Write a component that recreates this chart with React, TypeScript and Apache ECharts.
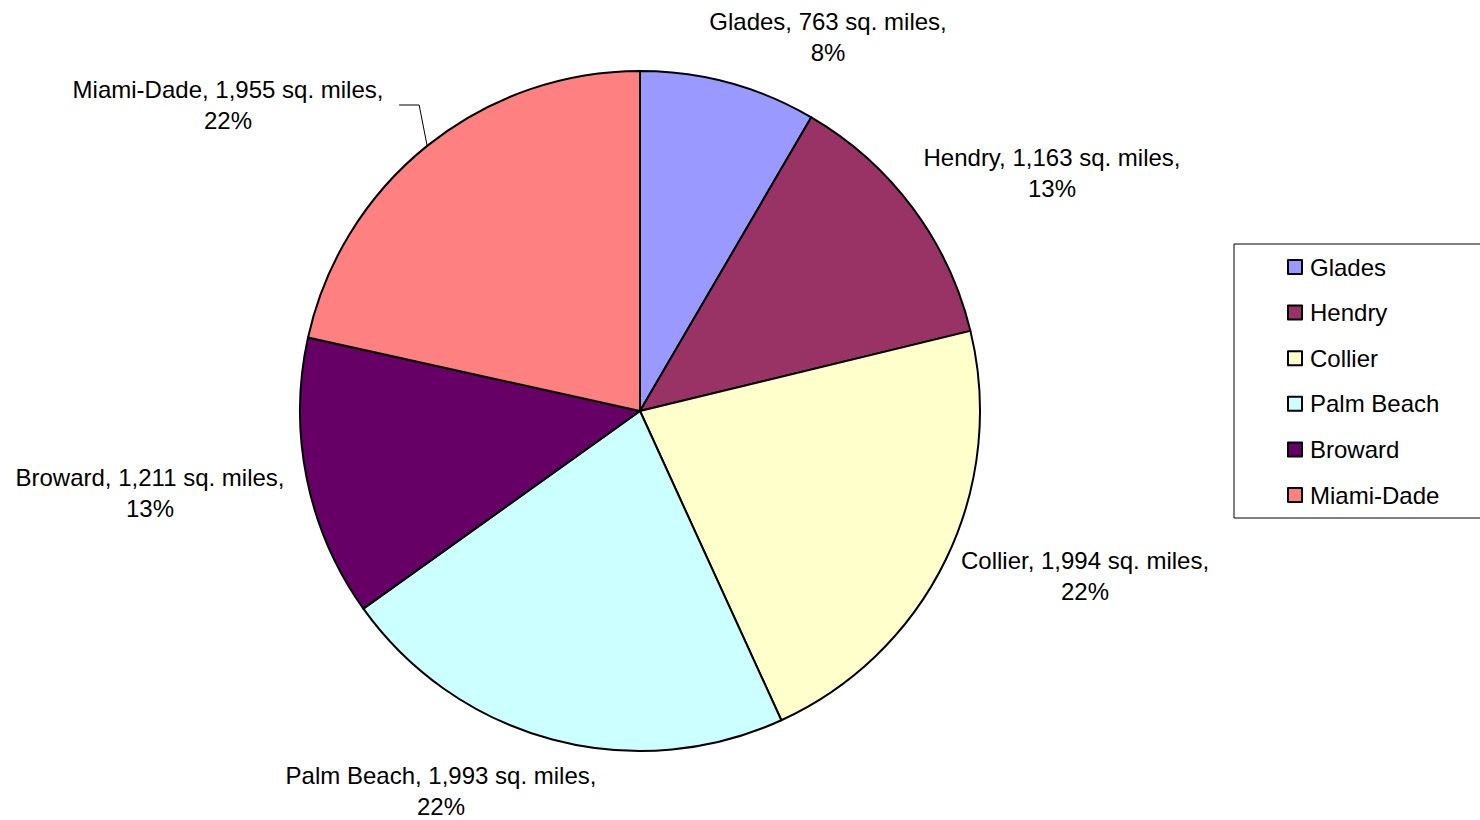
import React, { useEffect, useRef } from "react";
import * as echarts from "echarts";

const categories = ["Glades", "Hendry", "Collier", "Palm Beach", "Broward", "Miami-Dade"];
const areas = [763, 1163, 1994, 1993, 1211, 1955];
const colors = ["#9999FF", "#993366", "#FFFFCC", "#CCFFFF", "#660066", "#FF8080"];

// label block centres (layout only)
const labelPos: [number, number][] = [
  [828, 37],
  [1052, 173],
  [1085, 576],
  [441, 791],
  [150, 493],
  [228, 105],
];

const CX = 640;
const CY = 411;
const R = 340;
const FONT = "'Liberation Sans', Arial, Helvetica, sans-serif";

function fmt(n: number): string {
  return String(n).replace(/\B(?=(\d{3})+(?!\d))/g, ",");
}

export default function App() {
  const ref = useRef<HTMLDivElement>(null);
  useEffect(() => {
    if (!ref.current) return;
    const chart = echarts.init(ref.current, null, { renderer: "svg" });
    const total = areas.reduce((a, b) => a + b, 0);
    const mids: number[] = [];
    let acc = 0;
    areas.forEach((v) => {
      mids.push(((acc + v / 2) / total) * Math.PI * 2);
      acc += v;
    });
    const data = categories.map((name, i) => ({
      name,
      value: areas[i],
      itemStyle: { color: colors[i] },
      labelLine: { show: i === 5 },
    }));
    chart.setOption({
      animation: false,
      backgroundColor: "#ffffff",
      legend: {
        orient: "vertical",
        left: 1234,
        top: 244,
        padding: [11, 80, 11, 53],
        borderColor: "#000",
        borderWidth: 1,
        itemWidth: 14,
        itemHeight: 14,
        itemGap: 21.6,
        icon: "rect",
        itemStyle: { borderColor: "#000", borderWidth: 2 },
        textStyle: {
          fontFamily: FONT,
          fontSize: 24,
          lineHeight: 24,
          color: "#000",
          padding: [0, 0, 0, 3],
        },
        data: categories,
      },
      series: [
        {
          type: "pie",
          center: [CX, CY],
          radius: R,
          startAngle: 90,
          clockwise: true,
          avoidLabelOverlap: false,
          percentPrecision: 0,
          itemStyle: { borderColor: "#000", borderWidth: 2 },
          emphasis: { disabled: true },
          label: {
            show: true,
            position: "outside",
            fontFamily: FONT,
            fontSize: 24,
            lineHeight: 31,
            color: "#000",
            formatter: (p: any) => `${p.name}, ${fmt(p.value)} sq. miles,\n${Math.round(p.percent)}%`,
          },
          labelLine: { show: false, lineStyle: { color: "#000", width: 1 } },
          labelLayout: (params: any) => {
            const i = params.dataIndex;
            const [x, y] = labelPos[i];
            const out: any = { x, y, align: "center", verticalAlign: "middle" };
            if (i === 5) {
              const sx = CX + R * Math.sin(mids[i]);
              const sy = CY - R * Math.cos(mids[i]);
              out.labelLinePoints = [
                [sx, sy],
                [sx - 8, y],
                [sx - 28, y],
              ];
            }
            return out;
          },
          data,
        },
      ],
    });
    return () => chart.dispose();
  }, []);
  return (
    <div
      ref={ref}
      style={{ position: "absolute", left: 0, top: 0, width: 1480, height: 820 }}
    />
  );
}
